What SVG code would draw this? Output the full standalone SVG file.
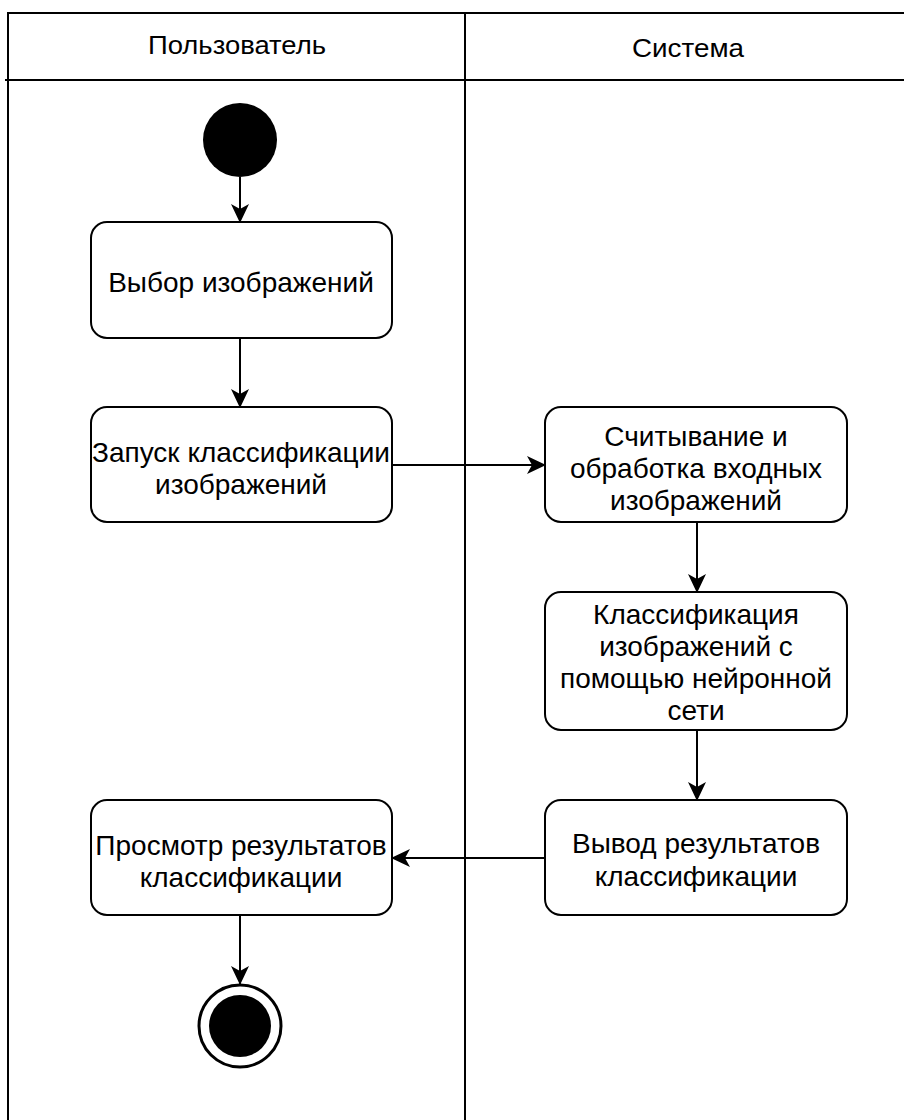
<svg xmlns="http://www.w3.org/2000/svg" width="904" height="1120" viewBox="0 0 904 1120">
<defs>
<style>
.lane{stroke:#000;stroke-width:2;fill:none}
.box{fill:#fff;stroke:#000;stroke-width:2}
.t{font-family:"Liberation Sans",Arial,sans-serif;font-size:28px;fill:#000;text-anchor:middle}
.h{font-family:"Liberation Sans",Arial,sans-serif;font-size:26px;fill:#000;text-anchor:middle}
.c{stroke:#000;stroke-width:2;fill:none;marker-end:url(#ah)}
</style>
<marker id="ah" markerWidth="20" markerHeight="20" refX="18" refY="9" orient="auto" markerUnits="userSpaceOnUse">
<path d="M0,0 L19,9 L0,18 L5,9 Z" fill="#000"/>
</marker>
</defs>
<rect width="904" height="1120" fill="#fff"/>
<g id="lanes">
<line class="lane" x1="7" y1="13" x2="904" y2="13"/>
<line class="lane" x1="5" y1="80" x2="904" y2="80"/>
<line class="lane" x1="8" y1="13" x2="8" y2="1120"/>
<line class="lane" x1="465" y1="13" x2="465" y2="1120"/>
<text class="h" x="237" y="54" textLength="178" lengthAdjust="spacingAndGlyphs">Пользователь</text>
<text class="h" x="688" y="57" textLength="112" lengthAdjust="spacingAndGlyphs">Система</text>
</g>
<g id="connectors">
<line class="c" x1="240" y1="177" x2="240" y2="222"/>
<line class="c" x1="240" y1="338" x2="240" y2="407"/>
<line class="c" x1="392" y1="465" x2="545" y2="465"/>
<line class="c" x1="697" y1="522" x2="697" y2="592"/>
<line class="c" x1="697" y1="730" x2="697" y2="800"/>
<line class="c" x1="545" y1="858" x2="392" y2="858"/>
<line class="c" x1="240" y1="915" x2="240" y2="984"/>
</g>
<g id="start"><circle cx="240" cy="140" r="37" fill="#000"/></g>
<g id="n1"><rect class="box" x="91" y="222" width="301" height="116" rx="16"/>
<text class="t" x="241" y="292">Выбор изображений</text></g>
<g id="n2"><rect class="box" x="91" y="407" width="301" height="115" rx="16"/>
<text class="t" x="241" y="462">Запуск классификации</text>
<text class="t" x="241" y="494">изображений</text></g>
<g id="n3"><rect class="box" x="545" y="407" width="302" height="115" rx="16"/>
<text class="t" x="696" y="446">Считывание и</text>
<text class="t" x="696" y="478">обработка входных</text>
<text class="t" x="696" y="510">изображений</text></g>
<g id="n4"><rect class="box" x="545" y="592" width="302" height="138" rx="16"/>
<text class="t" x="696" y="624">Классификация</text>
<text class="t" x="696" y="656">изображений с</text>
<text class="t" x="696" y="688">помощью нейронной</text>
<text class="t" x="696" y="720">сети</text></g>
<g id="n5"><rect class="box" x="545" y="800" width="302" height="115" rx="16"/>
<text class="t" x="696" y="853">Вывод результатов</text>
<text class="t" x="696" y="886">классификации</text></g>
<g id="n6"><rect class="box" x="91" y="800" width="301" height="115" rx="16"/>
<text class="t" x="241" y="855">Просмотр результатов</text>
<text class="t" x="241" y="887">классификации</text></g>
<g id="end"><circle cx="240" cy="1026" r="41" fill="#fff" stroke="#000" stroke-width="3"/>
<circle cx="240" cy="1026" r="31" fill="#000"/></g>
</svg>
